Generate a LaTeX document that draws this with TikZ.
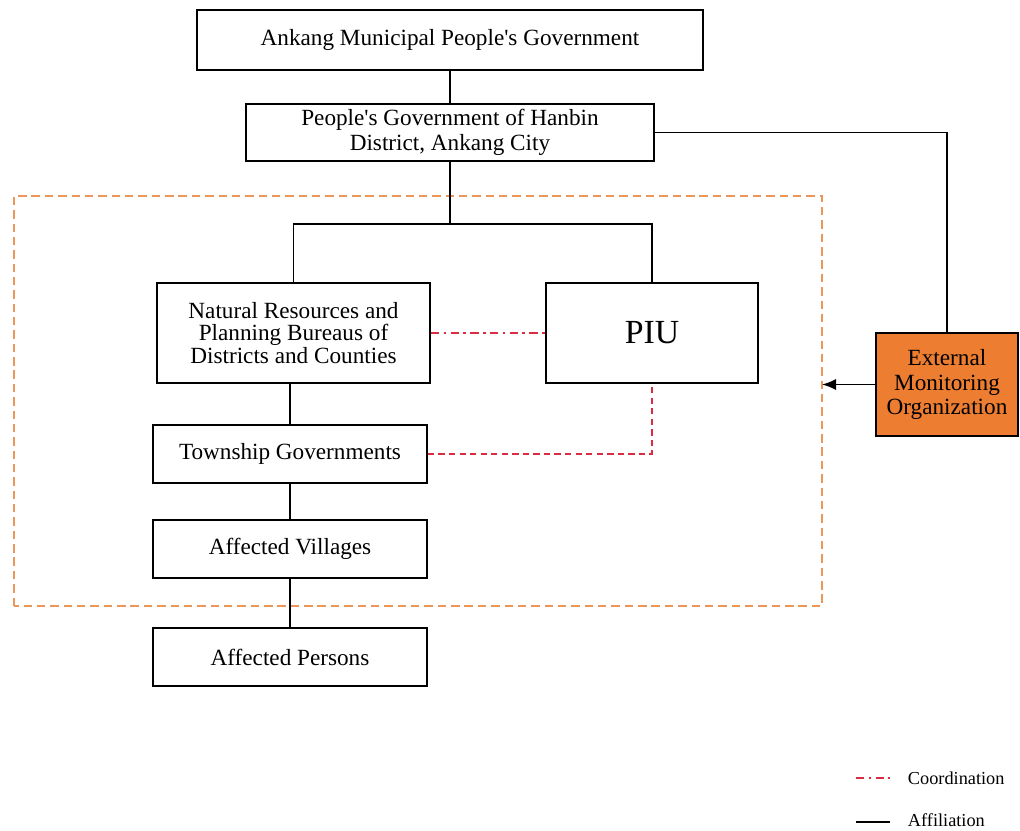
\documentclass[tikz,border=0pt]{standalone}
\usepackage{fontspec}
\setmainfont{Liberation Serif}
\usepackage{tikz}
\usetikzlibrary{arrows.meta}
\definecolor{extorange}{RGB}{237,125,49}
\definecolor{zoneorange}{RGB}{236,150,90}
\definecolor{coordred}{RGB}{218,45,65}

\begin{document}
\begin{tikzpicture}[x=0.025cm, y=-0.025cm,
                    govbox/.style={rectangle, draw, line width=1.2pt, align=center,
                                   font=\fontsize{16.5}{17.5}\selectfont},
                    extbox/.style={govbox, fill=extorange},
                    affil/.style={line width=1.2pt},
                    coordline/.style={coordred, line width=1.3pt, dash pattern=on 6pt off 3pt on 2pt off 3pt},
                    coorddash/.style={coordred, line width=1.3pt, dash pattern=on 4.5pt off 3pt},
                    zone/.style={zoneorange, line width=1.8pt, dash pattern=on 6pt off 3.5pt},
                    legend/.style={anchor=west, font=\fontsize{13}{15}\selectfont}
                    ]
\useasboundingbox (0,0) rectangle (1020,830);

%% dashed project area
\coordinate (zoneNE) at (822,196);
\draw[zone] (14,606) rectangle (zoneNE);

\node[govbox, minimum width=12.65cm, minimum height=1.5cm] (city) at (450,40)
  {Ankang Municipal People\textquotesingle s Government};
\node[govbox, minimum width=10.2cm, minimum height=1.425cm] (district) at (450,132.5)
  {People\textquotesingle s Government of Hanbin\\District, Ankang City};
\node[govbox, minimum width=6.825cm, minimum height=2.5cm, font=\fontsize{16.5}{16.2}\selectfont] (bureau) at (293.5,333)
  {Natural Resources and\\Planning Bureaus of\\Districts and Counties};
\node[govbox, minimum width=5.3cm, minimum height=2.5cm, font=\fontsize{24}{28}\selectfont] (piu) at (652,333)
  {PIU};
\node[govbox, minimum width=6.85cm, minimum height=1.45cm] (township) at (290,454)
  {Township Governments};
\node[govbox, minimum width=6.85cm, minimum height=1.45cm] (villages) at (290,549)
  {Affected Villages};
\node[govbox, minimum width=6.85cm, minimum height=1.45cm] (persons) at (290,657)
  {Affected Persons};
\node[extbox, minimum width=3.55cm, minimum height=2.575cm] (monitor) at (947,384.5)
  {External\\Monitoring\\Organization};

%% affiliation
\coordinate (split) at (450,224);
\draw[affil] (city) -- (district);
\draw[affil] (district.south) -- (split);
\draw[affil] (bureau.north) |- (split) -| (piu.north);
\draw[affil] (district.east) -| (monitor.north);
\draw[affil] (township.north) -- (township.north |- bureau.south);
\draw[affil] (township) -- (villages);
\draw[affil] (villages) -- (persons);
\draw[affil, -{Latex[length=10pt, width=8pt]}] (monitor.west) -- (monitor.west -| zoneNE);

%% coordination
\draw[coordline] (bureau.east) -- (piu.west);
\draw[coorddash] (township.east) -| (piu.south);

%% legend
\node[legend] (legcoord) at (903,778) {Coordination};
\node[legend] (legaffil) at (903,820) {Affiliation};
\coordinate (legA) at (856,778);
\coordinate (legB) at (856,822);
\draw[coordline] (legA) -- ++(34,0);
\draw[affil] (legB) -- ++(34,0);
\end{tikzpicture}
\end{document}
